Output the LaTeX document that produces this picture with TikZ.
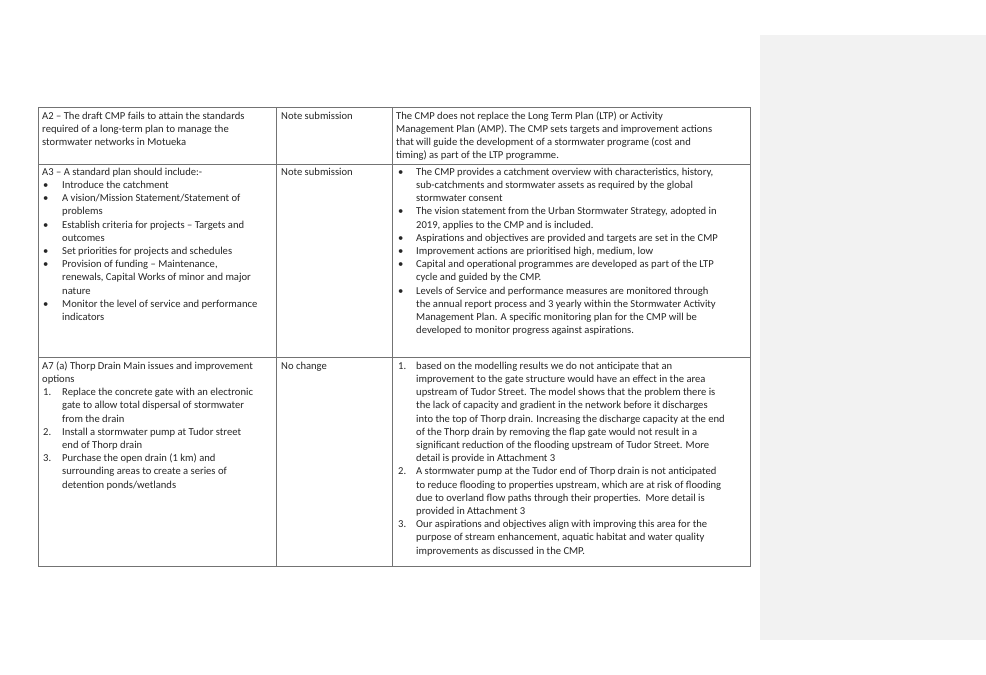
\documentclass[tikz,border=0pt]{standalone}
\usepackage{fontspec}
\setmainfont{Carlito}
\tikzset{
  txt/.style={anchor=north west,inner sep=0pt,align=left,font=\fontsize{10.6}{13.2}\selectfont,text=black!85},
  rule/.style={draw=black!55,line width=0.9pt}
}
\newcommand{\T}[4]{\node[txt] (#1) at (#2,#3-9.24) {\strut #4};}
\begin{document}
\begin{tikzpicture}[x=1pt,y=-1pt]
\useasboundingbox (0,0) rectangle (986,675);
\fill[white] (0,0) rectangle (986,675);
\fill[black!5] (760,35) rectangle (986,640);
% table lines
\draw[rule] (38,107) rectangle (750,566);
\draw[rule] (38,164) -- (750,164);
\draw[rule] (38,357) -- (750,357);
\draw[rule] (276,107) -- (276,566);
\draw[rule] (392,107) -- (392,566);
% row 1
\T{a2}{42}{119}{A2 -- The draft CMP fails to attain the standards\\required of a long-term plan to manage the\\stormwater networks in Motueka}
\T{n1}{281}{119}{Note submission}
\T{r1}{396}{119}{The CMP does not replace the Long Term Plan (LTP) or Activity\\Management Plan (AMP). The CMP sets targets and improvement actions\\that will guide the development of a stormwater programe (cost and\\timing) as part of the LTP programme.}
% row 2 col 1
\T{a3}{42}{175}{A3 -- A standard plan should include:-}
\foreach \k/\t [count=\i] in {1/{Introduce the catchment},2/{A vision/Mission Statement/Statement of\\problems},4/{Establish criteria for projects -- Targets and\\outcomes},6/{Set priorities for projects and schedules},7/{Provision of funding -- Maintenance,\\renewals, Capital Works of minor and major\\nature},10/{Monitor the level of service and performance\\indicators}}{
  \T{ab\i}{43}{175+13.2*\k}{•}
  \T{at\i}{62}{175+13.2*\k}{\t}
}
\T{n2}{281}{175}{Note submission}
\foreach \k/\t [count=\i] in {0/{The CMP provides a catchment overview with characteristics, history,\\sub-catchments and stormwater assets as required by the global\\stormwater consent},3/{The vision statement from the Urban Stormwater Strategy, adopted in\\2019, applies to the CMP and is included.},5/{Aspirations and objectives are provided and targets are set in the CMP},6/{Improvement actions are prioritised high, medium, low},7/{Capital and operational programmes are developed as part of the LTP\\cycle and guided by the CMP.},9/{Levels of Service and performance measures are monitored through\\the annual report process and 3 yearly within the Stormwater Activity\\Management Plan. A specific monitoring plan for the CMP will be\\developed to monitor progress against aspirations.}}{
  \T{rb\i}{398}{175+13.2*\k}{•}
  \T{rt\i}{416}{175+13.2*\k}{\t}
}
% row 3
\T{a7}{42}{369}{A7 (a) Thorp Drain Main issues and improvement\\options}
\foreach \k/\t [count=\i] in {2/{Replace the concrete gate with an electronic\\gate to allow total dispersal of stormwater\\from the drain},5/{Install a stormwater pump at Tudor street\\end of Thorp drain},7/{Purchase the open drain (1 km) and\\surrounding areas to create a series of\\detention ponds/wetlands}}{
  \T{cn\i}{43}{369+13.2*\k}{\i.}
  \T{ct\i}{62}{369+13.2*\k}{\t}
}
\T{n3}{281}{369}{No change}
\foreach \k/\t [count=\i] in {0/{based on the modelling results we do not anticipate that an\\improvement to the gate structure would have an effect in the area\\upstream of Tudor Street. The model shows that the problem there is\\the lack of capacity and gradient in the network before it discharges\\into the top of Thorp drain. Increasing the discharge capacity at the end\\of the Thorp drain by removing the flap gate would not result in a\\significant reduction of the flooding upstream of Tudor Street. More\\detail is provide in Attachment 3},8/{A stormwater pump at the Tudor end of Thorp drain is not anticipated\\to reduce flooding to properties upstream, which are at risk of flooding\\due to overland flow paths through their properties.\ \ More detail is\\provided in Attachment 3},12/{Our aspirations and objectives align with improving this area for the\\purpose of stream enhancement, aquatic habitat and water quality\\improvements as discussed in the CMP.}}{
  \T{dn\i}{398}{369+13.2*\k}{\i.}
  \T{dt\i}{416}{369+13.2*\k}{\t}
}
\end{tikzpicture}
\end{document}
